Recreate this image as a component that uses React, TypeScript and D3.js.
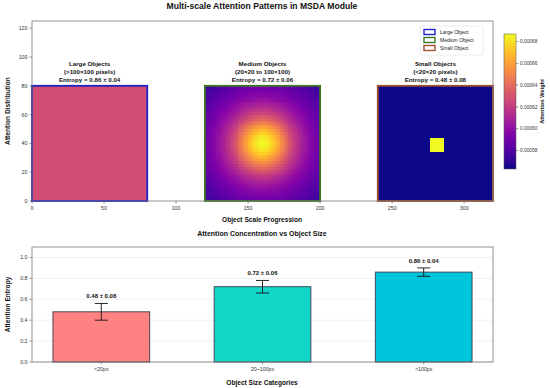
import React from 'react';
import * as d3 from 'd3';

// top panel: three attention maps
const regionTitles = ['Large Objects', 'Medium Objects', 'Small Objects'];
const regionSubtitles = ['(>100×100 pixels)', '(20×20 to 100×100)', '(<20×20 pixels)'];
const regionStarts = [0, 120, 240];
const regionSize = 80;
const regionEdges = ['#2020c8', '#3f7a22', '#a0522d'];
const legendLabels = ['Large Object', 'Medium Object', 'Small Object'];

const largeLevel = 0.52; // uniform attention (plasma position)
const mediumCenter = [40, 40];
const mediumWeights = [0.5, 0.5]; // sharp core + broad halo
const mediumSigmas = [12, 30];
const smallHot = [36, 46, 34, 44]; // x0, x1, y0, y1 inside region

const cbarDomain = [0.000563, 0.000687];
const cbarTicks = [0.00058, 0.0006, 0.00062, 0.00064, 0.00066, 0.00068];

// bottom panel
const categories = ['<20px', '20~100px', '>100px'];
const entropyMean = [0.48, 0.72, 0.86];
const entropyStd = [0.08, 0.06, 0.04];
const barColors = ['#ff8282', '#12d6c8', '#00c6dd'];
const entropyTicks = [0, 0.2, 0.4, 0.6, 0.8, 1.0];
const regionEntropy = [0.86, 0.72, 0.48];
const regionEntropyStd = [0.04, 0.06, 0.08];

const FONT = '"Liberation Sans", Arial, sans-serif';

function buildCells(i: number) {
  const n = 40;
  const step = regionSize / n;
  const cells: { x: number; y: number; s: number; v: number }[] = [];
  if (i === 0) {
    cells.push({ x: 0, y: 0, s: regionSize, v: largeLevel });
    return cells;
  }
  for (let r = 0; r < n; r++) {
    for (let c = 0; c < n; c++) {
      const cx = c * step + step / 2;
      const cy = r * step + step / 2;
      let v = 0;
      if (i === 1) {
        const d2 = (cx - mediumCenter[0]) ** 2 + (cy - mediumCenter[1]) ** 2;
        v = d3.sum(mediumWeights, (w, k) => w * Math.exp(-d2 / (2 * mediumSigmas[k] ** 2)));
      } else {
        v = cx > smallHot[0] && cx < smallHot[1] && cy > smallHot[2] && cy < smallHot[3] ? 1 : 0;
      }
      cells.push({ x: c * step, y: r * step, s: step, v });
    }
  }
  return cells;
}

export default function App() {
  const W = 550;
  const H = 388;

  // top axes
  const tx = d3.scaleLinear().domain([0, 320]).range([32, 493]);
  const ty = d3.scaleLinear().domain([0, 125]).range([201, 21]);
  const xTicks = [0, 50, 100, 150, 200, 250, 300];
  const yTicks = [0, 20, 40, 60, 80, 100, 120];

  // colorbar
  const cy = d3.scaleLinear().domain(cbarDomain).range([169, 34]);
  const cbX = 504;
  const cbW = 12;

  // bottom axes
  const bx = d3.scaleLinear().domain([-0.43, 2.43]).range([32, 493]);
  const by = d3.scaleLinear().domain([0, 1.1]).range([362, 247]);
  const barW = bx(0.3) - bx(-0.3);
  const capW = 13;

  const gradStops = d3.range(0, 1.0001, 0.05);

  return (
    <svg width={W} height={H} style={{ position: 'absolute', left: 0, top: 0, fontFamily: FONT }}>
      <defs>
        <linearGradient id="plasma" x1="0" y1="1" x2="0" y2="0">
          {gradStops.map(t => (
            <stop key={t} offset={`${t * 100}%`} stopColor={d3.interpolatePlasma(t)} />
          ))}
        </linearGradient>
      </defs>
      <rect width={W} height={H} fill="#fff" />

      {/* ---------- top panel ---------- */}
      <text x={262} y={9} textAnchor="middle" fontSize={8.6} fontWeight="bold" fill="#111">
        Multi-scale Attention Patterns in MSDA Module
      </text>

      {regionStarts.map((x0, i) => (
        <g key={i}>
          {buildCells(i).map((c, k) => (
            <rect
              key={k}
              x={tx(x0 + c.x)}
              y={ty(c.y + c.s)}
              width={tx(x0 + c.x + c.s) - tx(x0 + c.x) + 0.3}
              height={ty(c.y) - ty(c.y + c.s) + 0.3}
              fill={d3.interpolatePlasma(c.v)}
              shapeRendering="crispEdges"
            />
          ))}
          <rect
            x={tx(x0)}
            y={ty(regionSize)}
            width={tx(x0 + regionSize) - tx(x0)}
            height={ty(0) - ty(regionSize)}
            fill="none"
            stroke={regionEdges[i]}
            strokeWidth={1.8}
          />
          {[regionTitles[i], regionSubtitles[i], `Entropy = ${regionEntropy[i].toFixed(2)} ± ${regionEntropyStd[i].toFixed(2)}`].map(
            (t, j) => (
              <text
                key={j}
                x={tx(x0 + regionSize / 2)}
                y={65.5 + j * 8.2}
                textAnchor="middle"
                fontSize={6.2}
                fontWeight="bold"
                fill="#111"
              >
                {t}
              </text>
            ),
          )}
        </g>
      ))}

      <rect x={32} y={21} width={461} height={180} fill="none" stroke="#777" strokeWidth={0.8} />
      {xTicks.map(t => (
        <g key={t}>
          <line x1={tx(t)} x2={tx(t)} y1={201} y2={203.5} stroke="#555" strokeWidth={0.6} />
          <text x={tx(t)} y={210} textAnchor="middle" fontSize={5.3} fill="#333">
            {t}
          </text>
        </g>
      ))}
      {yTicks.map(t => (
        <g key={t}>
          <line x1={29.5} x2={32} y1={ty(t)} y2={ty(t)} stroke="#555" strokeWidth={0.6} />
          <text x={27.5} y={ty(t) + 1.9} textAnchor="end" fontSize={5.3} fill="#333">
            {t}
          </text>
        </g>
      ))}
      <text x={262} y={222} textAnchor="middle" fontSize={6.6} fontWeight="bold" fill="#111">
        Object Scale Progression
      </text>
      <text
        transform={`translate(10, ${ty(62.5)}) rotate(-90)`}
        textAnchor="middle"
        fontSize={6.6}
        fontWeight="bold"
        fill="#111"
      >
        Attention Distribution
      </text>

      {/* legend */}
      <rect x={420} y={26} width={63} height={29} fill="#fff" stroke="#ddd" strokeWidth={0.6} rx={1.5} />
      {legendLabels.map((l, i) => (
        <g key={l}>
          <rect x={424} y={29.5 + i * 8} width={11} height={5} fill="#fff" stroke={regionEdges[i]} strokeWidth={1.4} />
          <text x={440} y={33.8 + i * 8} fontSize={5} fill="#222">
            {l}
          </text>
        </g>
      ))}

      {/* colorbar */}
      <rect x={cbX} y={cy(cbarDomain[1])} width={cbW} height={cy(cbarDomain[0]) - cy(cbarDomain[1])} fill="url(#plasma)" />
      <rect
        x={cbX}
        y={cy(cbarDomain[1])}
        width={cbW}
        height={cy(cbarDomain[0]) - cy(cbarDomain[1])}
        fill="none"
        stroke="#555"
        strokeWidth={0.5}
      />
      {cbarTicks.map(t => (
        <g key={t}>
          <line x1={cbX + cbW} x2={cbX + cbW + 2.5} y1={cy(t)} y2={cy(t)} stroke="#555" strokeWidth={0.6} />
          <text x={cbX + cbW + 4} y={cy(t) + 1.7} fontSize={4.8} fill="#333">
            {t.toFixed(5)}
          </text>
        </g>
      ))}
      <text
        transform={`translate(544, ${cy((cbarDomain[0] + cbarDomain[1]) / 2)}) rotate(-90)`}
        textAnchor="middle"
        fontSize={5.6}
        fontWeight="bold"
        fill="#111"
      >
        Attention Weight
      </text>

      {/* ---------- bottom panel ---------- */}
      <text x={262} y={235.5} textAnchor="middle" fontSize={7} fontWeight="bold" fill="#111">
        Attention Concentration vs Object Size
      </text>
      {entropyTicks.map(t => (
        <g key={t}>
          <line x1={32} x2={493} y1={by(t)} y2={by(t)} stroke="#e6e6e6" strokeWidth={0.6} />
          <line x1={29.5} x2={32} y1={by(t)} y2={by(t)} stroke="#555" strokeWidth={0.6} />
          <text x={27.5} y={by(t) + 1.9} textAnchor="end" fontSize={5.3} fill="#333">
            {t.toFixed(1)}
          </text>
        </g>
      ))}
      {categories.map((c, i) => {
        const cx = bx(i);
        const lo = entropyMean[i] - entropyStd[i];
        const hi = entropyMean[i] + entropyStd[i];
        return (
          <g key={c}>
            <rect
              x={cx - barW / 2}
              y={by(entropyMean[i])}
              width={barW}
              height={by(0) - by(entropyMean[i])}
              fill={barColors[i]}
              stroke="#3a3a50"
              strokeWidth={0.9}
            />
            <line x1={cx} x2={cx} y1={by(lo)} y2={by(hi)} stroke="#111" strokeWidth={0.9} />
            <line x1={cx - capW / 2} x2={cx + capW / 2} y1={by(lo)} y2={by(lo)} stroke="#111" strokeWidth={0.9} />
            <line x1={cx - capW / 2} x2={cx + capW / 2} y1={by(hi)} y2={by(hi)} stroke="#111" strokeWidth={0.9} />
            <text x={cx} y={by(hi + 0.05)} textAnchor="middle" fontSize={6} fontWeight="bold" fill="#111">
              {`${entropyMean[i].toFixed(2)} ± ${entropyStd[i].toFixed(2)}`}
            </text>
            <line x1={cx} x2={cx} y1={362} y2={364.5} stroke="#555" strokeWidth={0.6} />
            <text x={cx} y={370.5} textAnchor="middle" fontSize={5.3} fill="#333">
              {c}
            </text>
          </g>
        );
      })}
      <rect x={32} y={247} width={461} height={115} fill="none" stroke="#777" strokeWidth={0.8} />
      <text x={262} y={384.5} textAnchor="middle" fontSize={6.6} fontWeight="bold" fill="#111">
        Object Size Categories
      </text>
      <text
        transform={`translate(10, ${by(0.55)}) rotate(-90)`}
        textAnchor="middle"
        fontSize={6.6}
        fontWeight="bold"
        fill="#111"
      >
        Attention Entropy
      </text>
    </svg>
  );
}
